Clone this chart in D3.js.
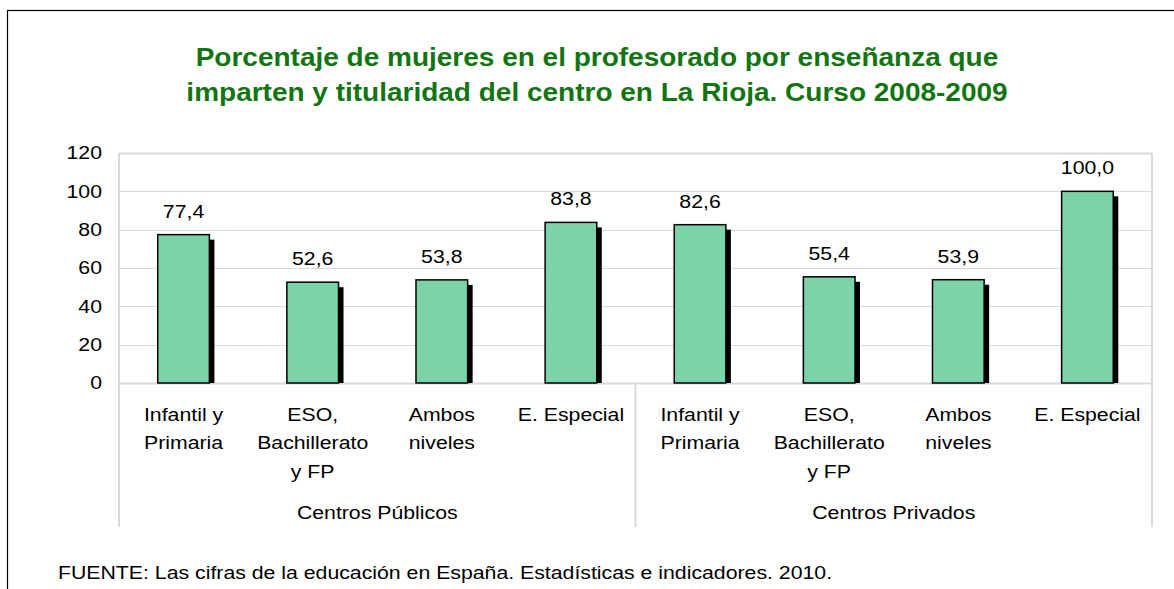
<!DOCTYPE html>
<html>
<head>
<meta charset="utf-8">
<script src="https://cdn.jsdelivr.net/npm/d3@7"></script>
<style>
  body { margin: 0; background: #fff; }
  svg { font-family: "Liberation Sans", Arial, sans-serif; }
</style>
</head>
<body>
<div id="chart-area"></div>
<script>
// data
var groups = ["Centros Públicos", "Centros Privados"];
var categories = ["Infantil y Primaria", "ESO, Bachillerato y FP", "Ambos niveles", "E. Especial"];
var categoryLines = [["Infantil y", "Primaria"], ["ESO,", "Bachillerato", "y FP"], ["Ambos", "niveles"], ["E. Especial"]];
var publicValues = [77.4, 52.6, 53.8, 83.8];
var privateValues = [82.6, 55.4, 53.9, 100.0];
var yTicks = [0, 20, 40, 60, 80, 100, 120];

var data = [];
for (var i = 0; i < categories.length; i++) {
  data.push({group: groups[0], cat: categories[i], lines: categoryLines[i], value: publicValues[i]});
}
for (var i = 0; i < categories.length; i++) {
  data.push({group: groups[1], cat: categories[i], lines: categoryLines[i], value: privateValues[i]});
}

var W = 1174, H = 589;
var margin = {left: 119, right: 22, top: 153, bottom: 206};
var width = W - margin.left - margin.right,
    height = H - margin.top - margin.bottom;

var FONT = "18.5px";

// the reference text is a bit wider than the font, so stretch around the anchor x
function stretch(sel, s) {
  sel.attr("transform", function () {
    var x = +d3.select(this).attr("x") || 0;
    return "translate(" + x + ",0) scale(" + s + ",1) translate(" + (-x) + ",0)";
  });
}

var svg = d3.select("#chart-area").append("svg")
  .attr("width", W)
  .attr("height", H);

// outer frame
svg.append("rect")
  .attr("x", 7.5).attr("y", 10.5)
  .attr("width", W + 10).attr("height", H + 10)
  .attr("fill", "none")
  .attr("stroke", "#000")
  .attr("stroke-width", 1.2);

// title
var title = svg.append("text")
  .attr("x", 597)
  .attr("text-anchor", "middle")
  .style("font-size", "25px")
  .style("font-weight", "bold")
  .attr("fill", "#127512");
title.append("tspan").attr("x", 597).attr("y", 66)
  .text("Porcentaje de mujeres en el profesorado por enseñanza que");
title.append("tspan").attr("x", 597).attr("y", 101)
  .text("imparten y titularidad del centro en La Rioja. Curso 2008-2009");
stretch(title, 1.12);

var g = svg.append("g")
  .attr("transform", "translate(" + margin.left + "," + margin.top + ")");

var x = d3.scaleBand()
  .domain(d3.range(data.length))
  .range([0, width])
  .paddingInner(0.6)
  .paddingOuter(0.3);

var xGroup = d3.scaleBand()
  .domain(groups)
  .range([0, width]);

var y = d3.scaleLinear()
  .domain([0, 120])
  .range([height, 0]);

// gridlines
g.selectAll(".grid")
  .data(yTicks)
  .enter()
  .append("line")
  .attr("x1", 0).attr("x2", width)
  .attr("y1", function (d) { return Math.round(y(d)) + 0.5; })
  .attr("y2", function (d) { return Math.round(y(d)) + 0.5; })
  .attr("stroke", "#d9d9d9")
  .attr("stroke-width", function (d) { return d == 0 || d == 120 ? 2 : 1; });

// vertical frame / divider lines
var dividers = [0, xGroup(groups[1]), width];
g.selectAll(".divider")
  .data(dividers)
  .enter()
  .append("line")
  .attr("x1", function (d) { return d; })
  .attr("x2", function (d) { return d; })
  .attr("y1", function (d, i) { return i == 1 ? height : 0; })
  .attr("y2", height + 144)
  .attr("stroke", "#d9d9d9")
  .attr("stroke-width", 2);

// y axis labels
var yAxis = g.append("g")
  .call(d3.axisLeft(y).tickValues(yTicks).tickSize(0).tickPadding(17));
yAxis.select(".domain").remove();
yAxis.selectAll("text")
  .style("font-size", FONT)
  .style("font-family", "'Liberation Sans', Arial, sans-serif")
  .attr("fill", "#000")
  .call(stretch, 1.15);

// shadows
g.selectAll(".shadow")
  .data(data)
  .enter()
  .append("rect")
  .attr("x", function (d, i) { return x(i) + 5; })
  .attr("y", function (d) { return y(d.value) + 5; })
  .attr("width", x.bandwidth())
  .attr("height", function (d) { return height - y(d.value) - 5; })
  .attr("fill", "#000");

// bars
g.selectAll(".bar")
  .data(data)
  .enter()
  .append("rect")
  .attr("x", function (d, i) { return x(i); })
  .attr("y", function (d) { return y(d.value); })
  .attr("width", x.bandwidth())
  .attr("height", function (d) { return height - y(d.value); })
  .attr("fill", "#7dd3a8")
  .attr("stroke", "#000")
  .attr("stroke-width", 1.5);

// value labels
g.selectAll(".label")
  .data(data)
  .enter()
  .append("text")
  .attr("x", function (d, i) { return x(i) + x.bandwidth() / 2; })
  .attr("y", function (d) { return y(d.value) - 17; })
  .attr("text-anchor", "middle")
  .style("font-size", FONT)
  .text(function (d) { return d.value.toFixed(1).replace(".", ","); })
  .call(stretch, 1.15);

// category labels
var catLabels = g.selectAll(".cat")
  .data(data)
  .enter()
  .append("text")
  .attr("x", function (d, i) { return x(i) + x.bandwidth() / 2; })
  .attr("text-anchor", "middle")
  .style("font-size", FONT);
catLabels.each(function (d, i) {
  var cx = x(i) + x.bandwidth() / 2;
  var t = d3.select(this);
  d.lines.forEach(function (line, j) {
    t.append("tspan")
      .attr("x", cx)
      .attr("y", height + 38 + j * 28.5)
      .text(line);
  });
});
catLabels.call(stretch, 1.15);

// group labels
g.selectAll(".grp")
  .data(groups)
  .enter()
  .append("text")
  .attr("x", function (d) { return xGroup(d) + xGroup.bandwidth() / 2; })
  .attr("y", height + 136)
  .attr("text-anchor", "middle")
  .style("font-size", FONT)
  .text(function (d) { return d; })
  .call(stretch, 1.15);

// source note
svg.append("text")
  .attr("x", 58)
  .attr("y", 579)
  .style("font-size", FONT)
  .text("FUENTE: Las cifras de la educación en España. Estadísticas e indicadores. 2010.")
  .call(stretch, 1.15);
</script>
</body>
</html>
